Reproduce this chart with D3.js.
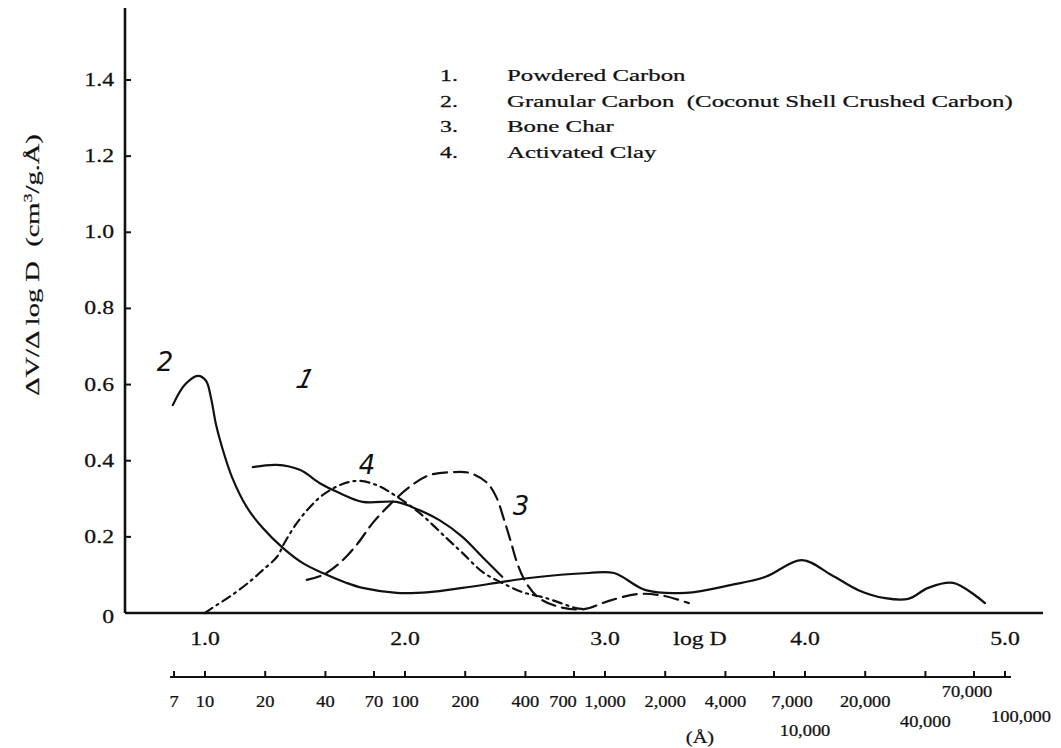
<!DOCTYPE html>
<html><head><meta charset="utf-8">
<script src="https://cdn.jsdelivr.net/npm/d3@7/dist/d3.min.js"></script>
<style>body{margin:0;background:#fff} text{white-space:pre}</style>
</head><body>
<svg id="c" width="1061" height="748"></svg>
<script>
// ---------- data ----------
const yTicks = [0, 0.2, 0.4, 0.6, 0.8, 1.0, 1.2, 1.4];
const yTickLabels = ["0", "0.2", "0.4", "0.6", "0.8", "1.0", "1.2", "1.4"];
const xTicks = [1, 2, 3, 4, 5];
const xTickLabels = ["1.0", "2.0", "3.0", "4.0", "5.0"];
const poreTicks = [7, 10, 20, 40, 70, 100, 200, 400, 700, 1000, 2000, 4000, 7000, 10000, 20000, 40000, 70000, 100000];
const poreLabels = ["7", "10", "20", "40", "70", "100", "200", "400", "700", "1,000", "2,000", "4,000", "7,000", "10,000", "20,000", "40,000", "70,000", "100,000"];
const poreSecondRow = [10000, 40000, 100000];
const seriesNumbers = ["1.", "2.", "3.", "4."];
const seriesNames = ["Powdered Carbon", "Granular Carbon  (Coconut Shell Crushed Carbon)", "Bone Char", "Activated Clay"];

// [log D, dV/dlogD]
const powdered = [[1.239,0.383],[1.359,0.389],[1.474,0.376],[1.574,0.341],[1.673,0.315],[1.788,0.292],[1.958,0.292],[2.037,0.278],[2.172,0.244],[2.287,0.200],[2.387,0.147],[2.486,0.095]];
const granular = [[0.839,0.546],[0.900,0.600],[0.965,0.623],[1.005,0.610],[1.030,0.565],[1.055,0.495],[1.085,0.436],[1.135,0.357],[1.209,0.278],[1.289,0.223],[1.389,0.171],[1.489,0.131],[1.589,0.105],[1.708,0.079],[1.788,0.066],[1.958,0.053],[2.122,0.055],[2.287,0.066],[2.456,0.079],[2.621,0.092],[2.920,0.105],[3.045,0.105],[3.204,0.060],[3.404,0.053],[3.633,0.074],[3.803,0.095],[3.983,0.139],[4.132,0.100],[4.267,0.060],[4.401,0.039],[4.516,0.037],[4.616,0.066],[4.741,0.079],[4.900,0.026]];
const boneChar = [[1.509,0.087],[1.589,0.100],[1.673,0.131],[1.758,0.179],[1.838,0.236],[1.923,0.284],[2.022,0.331],[2.122,0.362],[2.237,0.370],[2.322,0.368],[2.406,0.344],[2.456,0.305],[2.496,0.244],[2.531,0.184],[2.561,0.131],[2.606,0.079],[2.671,0.039],[2.771,0.016],[2.895,0.010],[3.020,0.032],[3.170,0.050],[3.294,0.045],[3.419,0.026]];
const activatedClay = [[1.000,0.000],[1.035,0.013],[1.135,0.047],[1.234,0.087],[1.289,0.113],[1.359,0.147],[1.399,0.186],[1.459,0.236],[1.524,0.278],[1.589,0.310],[1.688,0.339],[1.773,0.347],[1.858,0.336],[1.923,0.318],[2.072,0.263],[2.207,0.197],[2.287,0.158],[2.387,0.108],[2.486,0.079],[2.586,0.055],[2.706,0.039],[2.855,0.013],[2.905,0.010]];

// ---------- drawing ----------
const svg = d3.select("#c");
const x = d3.scaleLinear().domain([1, 5]).range([205, 1005]);
const y = d3.scaleLinear().domain([0, 1.4]).range([613, 80]);
const xs = d3.scaleLog().domain([10, 100000]).range([x(1), x(5)]);
const serif = "'Liberation Serif','Times New Roman',serif";

function label(g, px, py, str, size, anchor, sx) {
  return g.append("text")
    .attr("transform", `translate(${px},${py}) scale(${sx},1)`)
    .attr("text-anchor", anchor)
    .attr("font-family", serif)
    .attr("font-size", size)
    .attr("fill", "#111")
    .attr("stroke", "#111").attr("stroke-width", 0.25)
    .text(str);
}

// Y axis
const yAxisG = svg.append("g");
yAxisG.append("line").attr("x1", x(0.6)).attr("x2", x(0.6)).attr("y1", 8).attr("y2", y(0))
  .attr("stroke", "#111").attr("stroke-width", 2.6);
yTicks.forEach((v, i) => {
  if (v > 0) yAxisG.append("line").attr("x1", x(0.6)).attr("x2", x(0.6) + 6).attr("y1", y(v)).attr("y2", y(v))
    .attr("stroke", "#111").attr("stroke-width", 2);
  label(yAxisG, x(0.6) - 11, y(v) + 6 + (v === 0 ? 4 : 0), yTickLabels[i], 19, "end", 1.25);
});

// baseline
svg.append("line").attr("x1", x(0.6)).attr("x2", x(5.19)).attr("y1", y(0)).attr("y2", y(0))
  .attr("stroke", "#111").attr("stroke-width", 2.6);

// x labels
xTicks.forEach((v, i) => label(svg, x(v), 645, xTickLabels[i], 19, "middle", 1.25));
label(svg, x(3.475), 645, "log D", 19, "middle", 1.25);

// pore-diameter axis
const nudge = {700: [-11, 0], 7000: [18, 0], 70000: [-7, -10], 100000: [16, -14], 40000: [0, -9], 10000: [0, 0]};
const pg = svg.append("g");
pg.append("line").attr("x1", xs(7) - 4).attr("x2", xs(100000) + 6).attr("y1", 677).attr("y2", 677)
  .attr("stroke", "#111").attr("stroke-width", 2.2);
poreTicks.forEach((v, i) => {
  pg.append("line").attr("x1", xs(v)).attr("x2", xs(v)).attr("y1", 677).attr("y2", 671)
    .attr("stroke", "#111").attr("stroke-width", 2);
  const second = poreSecondRow.includes(v);
  const n = nudge[v] || [0, 0];
  label(pg, xs(v) + n[0], (second ? 736 : 707) + n[1], poreLabels[i], 16, "middle", 1.15);
});
label(pg, x(3.475), 743, "(Å)", 17, "middle", 1.2);

// Y title
const yt = svg.append("text")
  .attr("transform", `translate(39,265) rotate(-90) scale(1.5,1)`)
  .attr("text-anchor", "middle").attr("font-family", serif).attr("font-size", 19).attr("fill", "#111")
  .attr("stroke", "#111").attr("stroke-width", 0.2);
yt.append("tspan").text("ΔV/Δ log D  (cm");
yt.append("tspan").attr("font-size", 12).attr("dy", -7).text("3");
yt.append("tspan").attr("dy", 7).text("/g.Å)");

// legend
seriesNames.forEach((n, i) => {
  label(svg, 440, 81 + i * 25.5, seriesNumbers[i], 17, "start", 1.4);
  label(svg, 507, 81 + i * 25.5, n, 17, "start", 1.46);
});

// curves
const line = d3.line().x(d => x(d[0])).y(d => y(d[1])).curve(d3.curveCatmullRom.alpha(0.5));
const curves = [
  {data: granular, dash: null},
  {data: powdered, dash: null},
  {data: boneChar, dash: "14,7"},
  {data: activatedClay, dash: "9,5,2,5"}
];
curves.forEach(c => {
  svg.append("path").attr("d", line(c.data)).attr("fill", "none").attr("stroke", "#111")
    .attr("stroke-width", 2.2).attr("stroke-linecap", "round")
    .attr("stroke-dasharray", c.dash);
});

// hand-written curve numbers
const hand = "'DejaVu Sans',sans-serif";
[["2", 0.80, 0.66, 0], ["1", 1.49, 0.615, -15], ["4", 1.81, 0.39, 0], ["3", 2.58, 0.28, 0]].forEach(h => {
  svg.append("text").attr("transform", `translate(${x(h[1])},${y(h[2]) + 9}) skewX(${h[3]})`)
    .attr("text-anchor", "middle").attr("font-family", hand).attr("font-weight", 200)
    .attr("font-style", "italic").attr("font-size", 26).attr("fill", "#111").text(h[0]);
});
</script>
</body></html>
